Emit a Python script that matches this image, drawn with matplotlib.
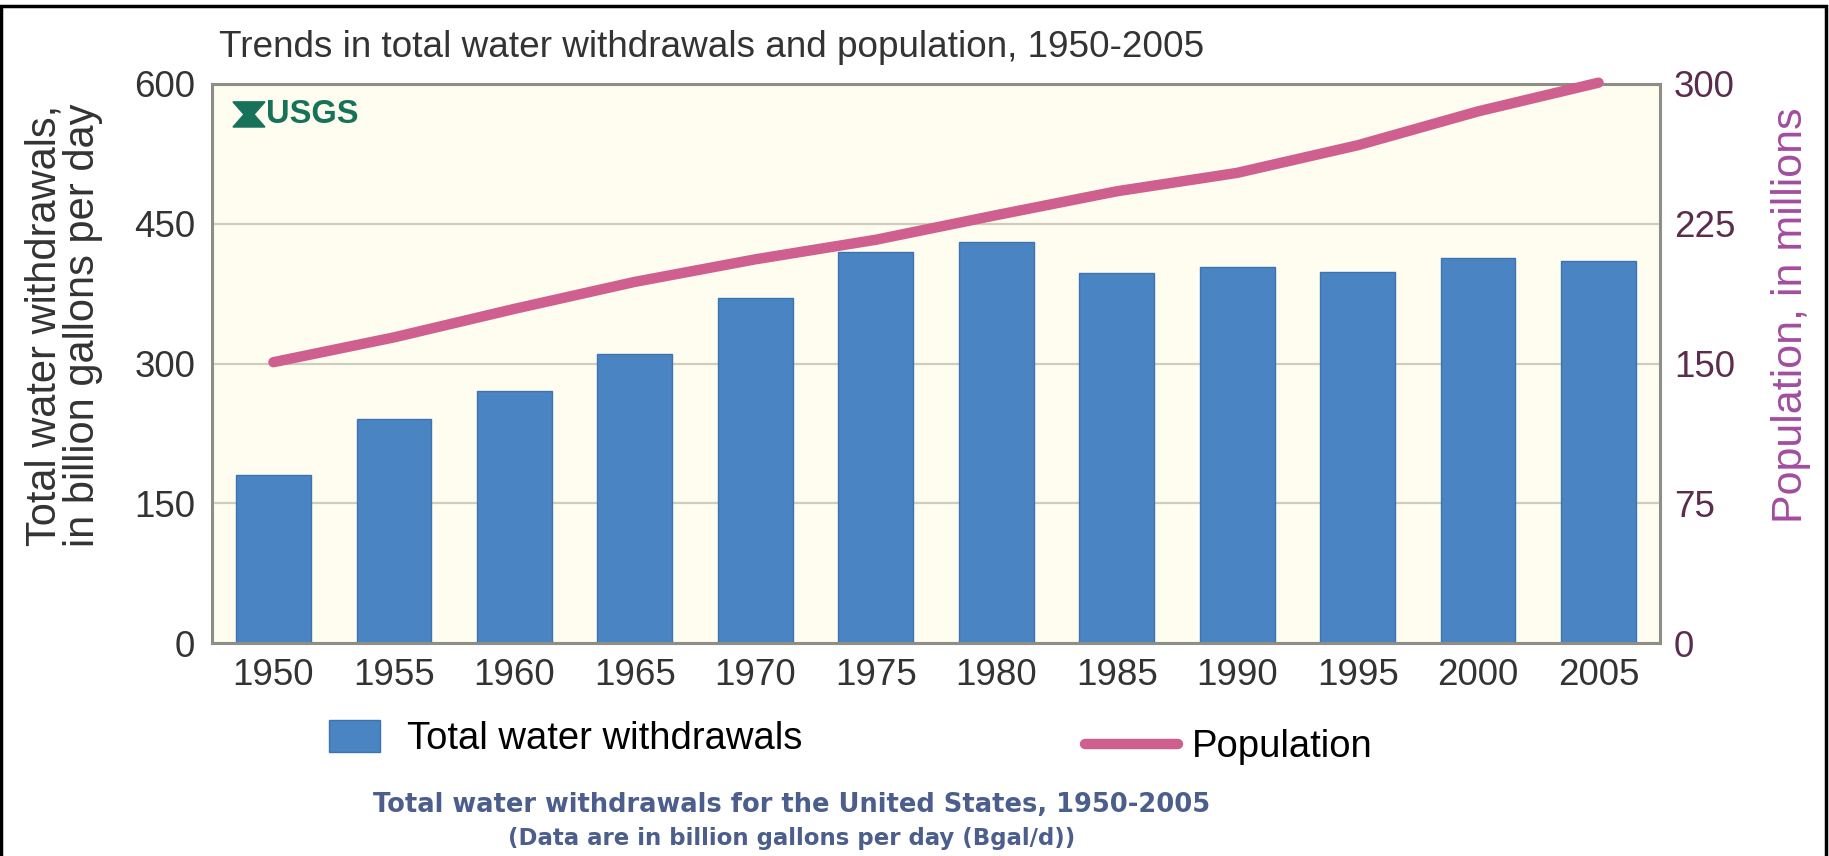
import matplotlib.pyplot as plt
from matplotlib.patches import Polygon, Rectangle

# USGS totals, 1950-2005
years = ['1950', '1955', '1960', '1965', '1970', '1975',
         '1980', '1985', '1990', '1995', '2000', '2005']
withdrawals = [180, 240, 270, 310, 370, 420, 430, 397, 404, 398, 413, 410]   # Bgal/d
population = [150.7, 164.0, 179.3, 193.8, 205.9, 216.4,
              229.6, 242.4, 252.3, 267.1, 285.3, 300.7]                      # millions

left_ticks = [0, 150, 300, 450, 600]
right_ticks = [0, 75, 150, 225, 300]

bar_color = '#4A84C2'
line_color = '#CF5F8E'
axis_grey = '#8E8E86'

plt.rcParams['font.family'] = ['Liberation Sans', 'DejaVu Sans']

fig = plt.figure(figsize=(18.29, 8.56), dpi=100)
ax = fig.add_axes([0.1159, 0.2488, 0.7917, 0.6531])
ax.set_facecolor('#FEFDF0')

x = range(len(years))
bars = ax.bar(x, withdrawals, width=0.62, color=bar_color, edgecolor='#3E74AE',
              linewidth=1, zorder=2, label='Total water withdrawals')
ax.set_xlim(-0.51, len(years) - 0.49)
ax.set_ylim(0, 600)
ax.set_yticks(left_ticks)
ax.set_xticks(list(x))
ax.set_xticklabels(years)
ax.grid(axis='y', color='#CFCDBE', linewidth=1.6, zorder=0)
ax.tick_params(axis='both', length=0, labelsize=26.5, labelcolor='#333333')
ax.tick_params(axis='y', pad=12)
ax.tick_params(axis='x', pad=11)
for s in ax.spines.values():
    s.set_color(axis_grey)
    s.set_linewidth(2.2)

ax2 = ax.twinx()
line, = ax2.plot(x, population, color=line_color, linewidth=7.5,
                 solid_capstyle='round', solid_joinstyle='round', zorder=3,
                 clip_on=False, label='Population')
ax2.set_ylim(0, 300)
ax2.set_yticks(right_ticks)
ax2.tick_params(axis='y', length=0, labelsize=26.5, labelcolor='#5B2C4B', pad=10)
for s in ax2.spines.values():
    s.set_visible(False)

# axis titles
fig.text(0.035, 0.620, 'Total water withdrawals,\nin billion gallons per day',
         rotation=90, ha='center', va='center', fontsize=30, color='#333333',
         linespacing=0.95)
fig.text(0.979, 0.632, 'Population, in millions', rotation=90,
         ha='center', va='center', fontsize=31, color='#A24CA0')

fig.text(0.1197, 0.945, 'Trends in total water withdrawals and population, 1950-2005',
         ha='left', va='center', fontsize=26.6, color='#333333')

# USGS mark
logo = Polygon([(0.0145, 0.968), (0.0366, 0.968), (0.0290, 0.9455),
                (0.0366, 0.923), (0.0145, 0.923), (0.0221, 0.9455)],
               closed=True, transform=ax.transAxes, color='#17725A', zorder=4)
ax.add_patch(logo)
ax.text(0.0375, 0.9455, 'USGS', transform=ax.transAxes, ha='left', va='center',
        fontsize=23.5, fontweight='bold', color='#17725A',
        family=['Liberation Sans Narrow', 'Liberation Sans'], zorder=4)

# legends below the plot
leg1 = fig.legend(handles=[bars], loc='center left', bbox_to_anchor=(0.180, 0.137),
                  frameon=False, fontsize=27.5, handlelength=1.34, handleheight=0.92,
                  handletextpad=0.7, borderpad=0, borderaxespad=0)
leg2 = fig.legend(handles=[line], loc='center left', bbox_to_anchor=(0.593, 0.127),
                  frameon=False, fontsize=27.5, handlelength=2.45,
                  handletextpad=0.37, borderpad=0, borderaxespad=0)

fig.text(0.433, 0.060, 'Total water withdrawals for the United States, 1950-2005',
         ha='center', va='center', fontsize=18.5, fontweight='bold',
         color='#4B5E8C', family='DejaVu Sans')
fig.text(0.433, 0.021, '(Data are in billion gallons per day (Bgal/d))',
         ha='center', va='center', fontsize=16.5, fontweight='bold',
         color='#4B5E8C', family='DejaVu Sans')

# outer frame
fig.patches.append(Rectangle((0.0008, -0.05), 0.9975, 1.043, transform=fig.transFigure,
                             fill=False, edgecolor='black', linewidth=2.5))

fig.savefig('out.png', dpi=100)
